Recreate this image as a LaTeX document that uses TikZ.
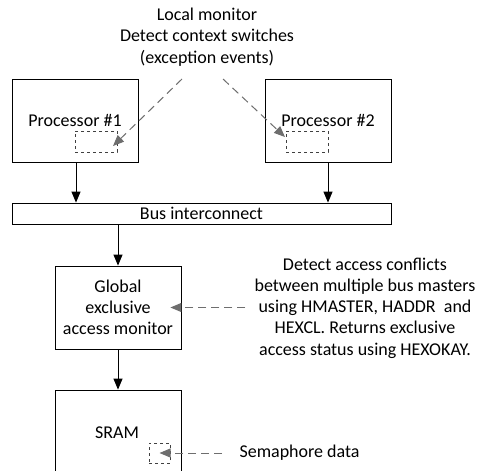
\documentclass[tikz,border=0pt]{standalone}
\usepackage{fontspec}
\setmainfont{Carlito}
\usetikzlibrary{arrows.meta}
\definecolor{dashgray}{HTML}{6E6E6E}

\begin{document}
\begin{tikzpicture}[x=1pt,y=-1pt,
  box/.style={draw,line width=0.8pt,minimum width=126pt,inner sep=0pt},
  mon/.style={draw=black!75,dashed,line width=0.6pt,inner sep=0pt},
  link/.style={-{Triangle[width=9pt,length=11pt]},line width=1pt},
  hint/.style={-{Triangle[width=9pt,length=11pt]},dashgray,dash pattern=on 8pt off 5pt,line width=1pt},
  every node/.style={font=\fontsize{18}{21.3}\selectfont}]
 \useasboundingbox (0,0) rectangle (477,471);
 % processors
 \node[box,minimum height=83pt] (cpu1) at (75,120.5) {};
 \node[box,minimum height=83pt] (cpu2) at (328,120.5) {};
 \node at (75,120) {Processor \#1};
 \node at (328,120) {Processor \#2};
 \node[mon,minimum width=42pt,minimum height=21pt] (lm1) at (96,141.5) {};
 \node[mon,minimum width=42pt,minimum height=21pt] (lm2) at (307,141.5) {};
 % bus
 \node[box,minimum width=379pt,minimum height=21pt] (bus) at (201.5,213.5) {Bus interconnect};
 % global monitor
 \node[box,minimum height=83pt,align=center] (gmon) at (118,307.5)
   {Global\\exclusive\\access monitor};
 % memory
 \node[box,minimum height=100pt] (sram) at (118,440) {};
 \node at (117,433) {SRAM};
 \node[mon,minimum width=21pt,minimum height=20pt] (sem) at (159.5,453) {};
 % notes
 \node[align=center] (lnote) at (207,37) {Local monitor\\Detect context switches\\(exception events)};
 \node[align=center] (gnote) at (365,308) {Detect access conflicts\\between multiple bus masters\\using HMASTER, HADDR\ \ and\\HEXCL. Returns exclusive\\access status using HEXOKAY.};
 \node[anchor=west] (snote) at (236,453) {Semaphore data};
 % connections
 \draw[link] (cpu1.south -| 76,0) -- (bus.north -| 76,0);
 \draw[link] (cpu2.south -| 328,0) -- (bus.north -| 328,0);
 \draw[link] (bus.south -| gmon.north) -- (gmon.north);
 \draw[link] (gmon.south) -- (sram.north);
 \coordinate (t1) at (182,79);
 \coordinate (t2) at (223,79);
 \draw[hint] (t1) -- (113,146);
 \draw[hint] (t2) -- (285,137);
 \draw[hint] (gmon.east) ++(64,0) -- ++(-75,0);
 \draw[hint] (snote.west) ++(-14,0) -- (sem.center);
\end{tikzpicture}
\end{document}
